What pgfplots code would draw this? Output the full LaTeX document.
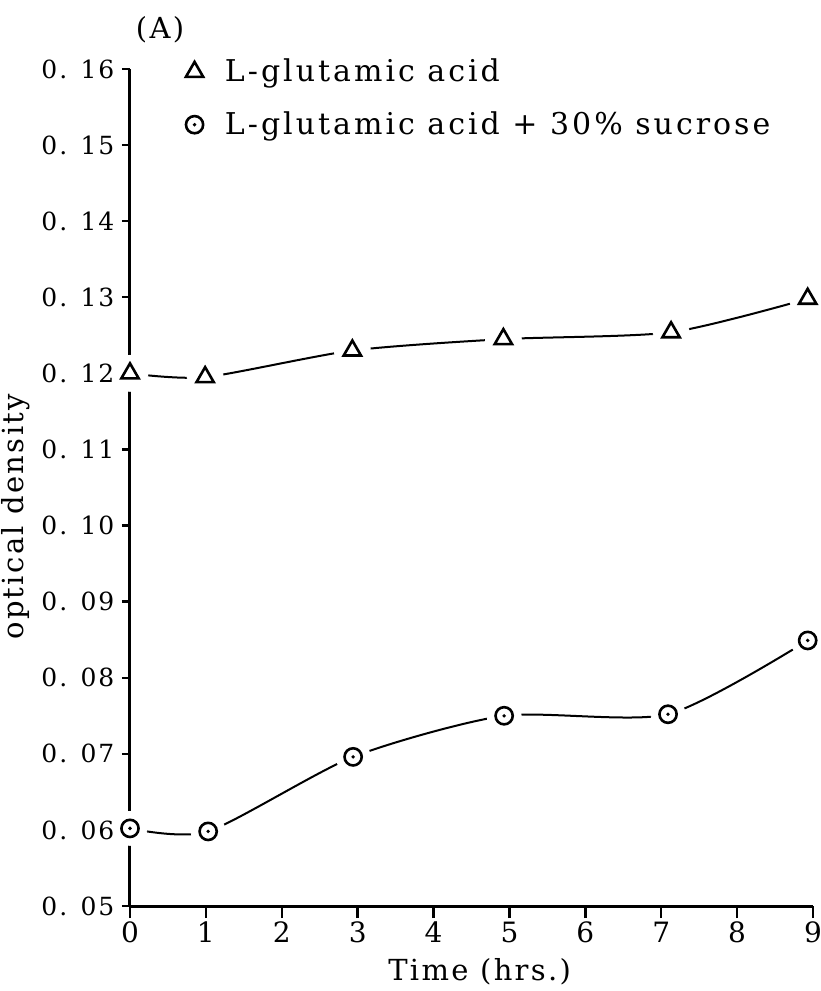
\documentclass[border=0pt]{standalone}
\usepackage{fontspec}
\setmainfont{DejaVu Serif}[LetterSpace=8]
\usepackage{pgfplots}
\usepackage{pgfplotstable}
\pgfplotsset{compat=1.18}

% open circle with a centre dot
\pgfdeclareplotmark{odot}{%
  \pgfpathcircle{\pgfpointorigin}{\pgfplotmarksize}\pgfusepathqstroke
  \pgfpathcircle{\pgfpointorigin}{0.22\pgfplotmarksize}\pgfusepathqfill}

\newcommand\chartfont{\fontsize{13.5}{16}\selectfont}
\newcommand\labelfont{\fontsize{14.5}{17}\selectfont}
\newcommand\keyfont{\fontsize{15}{18}\selectfont\addfontfeature{LetterSpace=10}}

% time (hrs.) vs optical density
\pgfplotstableread{
x     y
0     0.1200
0.99  0.1195
2.93  0.1230
4.92  0.1245
7.13  0.1254
8.93  0.1298
}\glutamic

\pgfplotstableread{
x     y
0     0.0602
1.03  0.0598
2.94  0.0696
4.93  0.0750
7.09  0.0752
8.93  0.0849
}\glutsucrose

\begin{document}
\begin{tikzpicture}[font=\chartfont]
\begin{axis}[
  scale only axis,
  width=341.5pt, height=418.5pt,
  xmin=0, xmax=9, ymin=0.05, ymax=0.16,
  axis lines*=left,
  axis on top,
  axis line style={line width=1.5pt},
  tick style={line width=1.2pt, black},
  tick align=outside,
  xtick style={/pgfplots/major tick length=6pt},
  ytick style={/pgfplots/major tick length=4pt},
  xtick={0,1,2,3,4,5,6,7,8,9},
  xticklabels={0,1,2,3,4,5,6,7,8,9},
  xticklabel style={font=\fontsize{14}{16}\selectfont},
  ytick={0.05,0.06,0.07,0.08,0.09,0.10,0.11,0.12,0.13,0.14,0.15,0.16},
  yticklabels={0. 05,0. 06,0. 07,0. 08,0. 09,0. 10,0. 11,0. 12,0. 13,0. 14,0. 15,0. 16},
  yticklabel style={font=\fontsize{12.5}{15}\selectfont},
  scaled y ticks=false,
  /pgf/number format/assume math mode=true,
  xlabel={Time (hrs.)},
  ylabel={optical density},
  label style={font=\labelfont},
  xlabel style={at={(axis description cs:0.512,-0.079)}, anchor=center},
  ylabel style={at={(axis description cs:-0.168,0.465)}, anchor=center},
  legend style={draw=none, fill=none, at={(rel axis cs:0.067,1.022)},
    anchor=north west, row sep=9.5pt, font=\keyfont},
  legend cell align=left,
  legend image code/.code={%
    \draw[#1] plot coordinates {(0pt,0pt)};
    \path (-6pt,0pt) (13pt,0pt);},
]
% curves, white halos that open a gap round each point, then the points
\addplot[smooth, tension=0.42, line width=1pt, forget plot] table {\glutamic};
\addplot[smooth, tension=0.42, line width=1pt, forget plot] table {\glutsucrose};
\addplot[only marks, mark=*, mark size=9pt, white, forget plot] table {\glutamic};
\addplot[only marks, mark=*, mark size=8.5pt, white, forget plot] table {\glutsucrose};
\addplot[only marks, mark=triangle, mark size=5pt,
  mark options={line width=1.3pt, fill=white, draw=black}] table {\glutamic};
\addplot[only marks, mark=odot, mark size=4.3pt,
  mark options={line width=1.3pt, fill=black, draw=black}] table {\glutsucrose};
\legend{L-glutamic acid, L-glutamic acid + 30\% sucrose}
\end{axis}
\node[font=\labelfont] at (15pt,438pt) {(A)};
\pgfresetboundingbox
\useasboundingbox (-65pt,-42.5pt) rectangle (345pt,453pt);
\end{tikzpicture}
\end{document}
